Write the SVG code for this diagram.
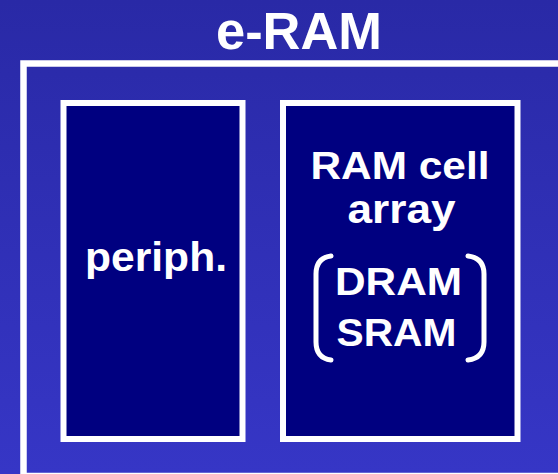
<svg xmlns="http://www.w3.org/2000/svg" width="558" height="474" viewBox="0 0 558 474">
  <defs>
    <linearGradient id="bg" x1="0" y1="0" x2="0" y2="1">
      <stop offset="0" stop-color="#2929a6"/>
      <stop offset="1" stop-color="#3636c6"/>
    </linearGradient>
    <style>
      .lbl { font-family: "Liberation Sans", Arial, sans-serif; font-weight: bold; fill: #ffffff; }
      .box { fill: #000080; stroke: #ffffff; stroke-width: 6; }
      .brk { fill: none; stroke: #ffffff; stroke-width: 5; stroke-linecap: round; }
    </style>
  </defs>

  <rect width="558" height="474" fill="url(#bg)"/>

  <!-- e-RAM outline and title -->
  <g id="eram">
    <rect x="23.5" y="63.5" width="600" height="412.5" fill="none" stroke="#ffffff" stroke-width="6.5"/>
    <text class="lbl" x="216" y="49" font-size="51" textLength="166" lengthAdjust="spacingAndGlyphs">e-RAM</text>
  </g>

  <!-- peripheral block -->
  <g id="periph">
    <rect class="box" x="63.5" y="103" width="179" height="336"/>
    <text class="lbl" x="85" y="271" font-size="40" textLength="142" lengthAdjust="spacingAndGlyphs">periph.</text>
  </g>

  <!-- memory cell array block -->
  <g id="cell-array">
    <rect class="box" x="283" y="103" width="234.5" height="336"/>
    <text class="lbl" x="310.5" y="179" font-size="39" textLength="179" lengthAdjust="spacingAndGlyphs">RAM cell</text>
    <text class="lbl" x="347.5" y="223" font-size="40" textLength="108" lengthAdjust="spacingAndGlyphs">array</text>
    <text class="lbl" x="335" y="295" font-size="38" textLength="127" lengthAdjust="spacingAndGlyphs">DRAM</text>
    <text class="lbl" x="336.5" y="346" font-size="38" textLength="120" lengthAdjust="spacingAndGlyphs">SRAM</text>
    <path class="brk" d="M331 256 Q316 258 316 274 L316 342 Q316 358 331 360"/>
    <path class="brk" d="M468 256 Q484 258 484 274 L484 342 Q484 358 468 360"/>
  </g>

  <g id="connectors"/>
</svg>
